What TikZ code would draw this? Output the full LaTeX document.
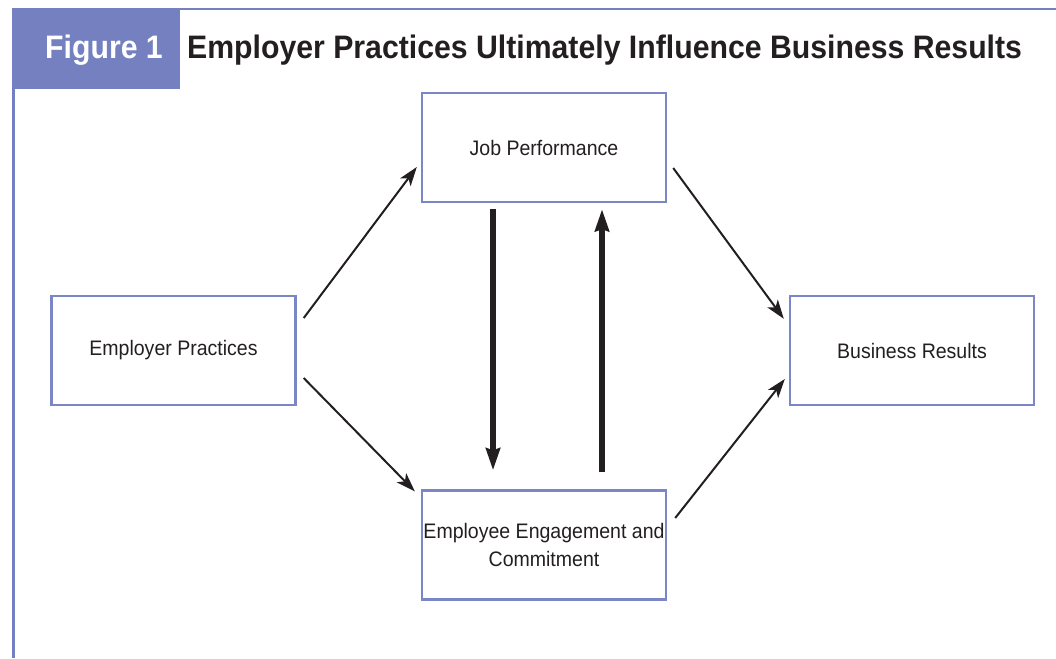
\documentclass[tikz,border=0pt]{standalone}
\usepackage{fontspec}
\setmainfont{Liberation Sans}[FakeStretch=0.93]
\usetikzlibrary{arrows.meta,calc}
\definecolor{frameblue}{HTML}{7480C0}
\definecolor{boxblue}{HTML}{7A86C6}
\definecolor{ink}{HTML}{231F20}
\tikzset{
  blk/.style={draw=boxblue, line width=2.4pt, minimum width=244pt, minimum height=109pt, inner sep=0pt, align=center, font=\fontsize{21}{28}\selectfont, text=ink},
  thin/.style={draw=ink, line width=2pt, -{Stealth[length=19pt,width=13pt,inset=5pt]}},
  thick/.style={draw=ink, line width=5.5pt, -{Stealth[length=22pt,width=14pt,inset=2pt]}}
}
\begin{document}
\begin{tikzpicture}[x=1pt,y=-1pt]
\useasboundingbox (0,0) rectangle (1056,658);
% frame
\fill[frameblue] (12,10) rectangle (180,89);
\draw[frameblue, line width=2.5pt] (12,9) -- (1056,9);
\draw[frameblue, line width=3pt] (13.5,9) -- (13.5,658);
\node[anchor=base west, inner sep=0pt, text=white, font=\fontsize{32.5}{36}\selectfont\bfseries] (fig) at (45,59) {Figure 1};
\node[anchor=base west, inner sep=0pt, text=ink, font=\fontsize{32.5}{36}\selectfont\bfseries] (title) at (187,59) {Employer Practices Ultimately Influence Business Results};
% boxes
\node[blk] (ep) at (173.5,350.5) {Employer Practices};
\node[blk] (jp) at (544,147.5) {Job Performance};
\node[blk] (ee) at (544,545) {Employee Engagement and\\Commitment};
\node[blk] (br) at (912,350.5) {Business Results};
% arrows
\draw[thin] ($(ep.east)+(7,-32.5)$) -- ($(jp.west)+(-4,19.5)$);
\draw[thin] ($(ep.east)+(7,27.5)$) -- ($(ee.north west)+(-6,2)$);
\draw[thin] ($(jp.east)+(6,20.5)$) -- ($(br.north west)+(-5,24)$);
\draw[thin] ($(ee.east)+(8,-27)$) -- ($(br.west)+(-4,28.5)$);
\draw[thick] ($(jp.south)+(-51,6)$) -- ($(ee.north)+(-51,-19)$);
\draw[thick] ($(ee.north)+(58,-17)$) -- ($(jp.south)+(58,6)$);
\end{tikzpicture}
\end{document}
